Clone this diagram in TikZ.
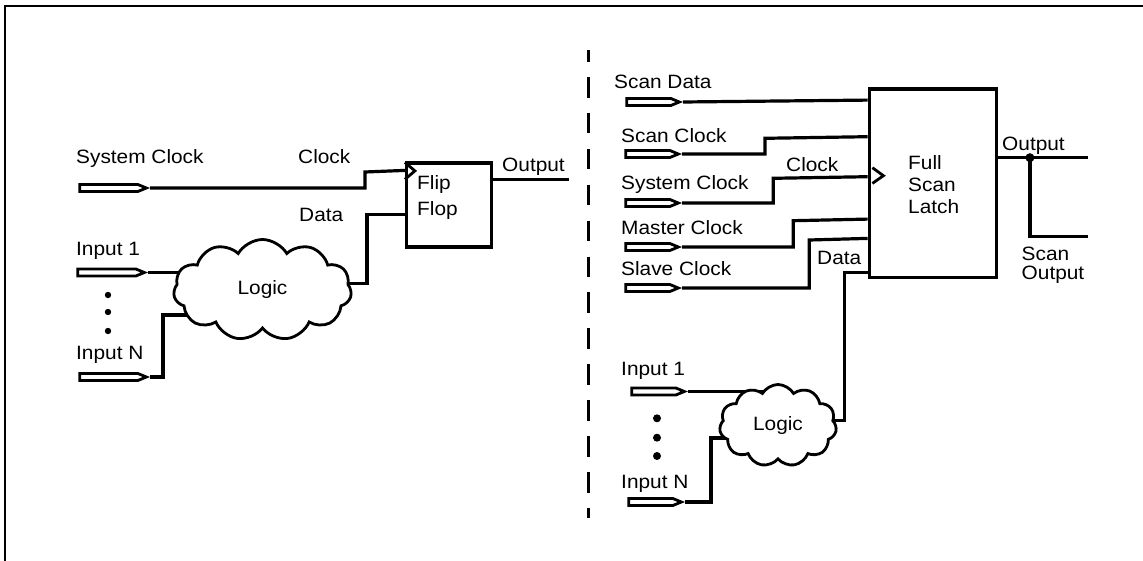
\documentclass[tikz,border=0pt]{standalone}
\usepackage{fontspec}
\setmainfont{Liberation Sans}[FakeStretch=1.08]
\usetikzlibrary{calc,shapes.symbols,backgrounds}
\newcommand{\sigfont}{\fontsize{19.3}{26}\selectfont}
\tikzset{
    wire/.style={
        line width=3.2pt
    },
    port/.style={
        draw,
        line width=2.8pt,
        shape=signal,
        signal to=east,
        signal from=nowhere,
        signal pointer angle=45,
        minimum width=52.5pt,
        minimum height=7pt,
        inner sep=0pt,
        anchor=east
    },
    portlong/.style={
        port,
        minimum width=66.5pt
    },
    sig/.style={
        anchor=base west,
        inner sep=0pt,
        font=\sigfont
    },
    blocktext/.style={
        anchor=north west,
        align=left,
        inner sep=0pt
    },
    block/.style={
        draw,
        line width=3.2pt,
        fill=white,
        inner sep=0pt
    },
    logic/.style={
        draw,
        cloud,
        cloud puffs=11,
        cloud puff arc=120,
        cloud ignores aspect,
        line width=2.8pt,
        fill=white,
        inner sep=0pt,
        font=\sigfont
    }
}

\begin{document}
\begin{tikzpicture}[x=1pt,y=-1pt]

    \useasboundingbox (0,0) rectangle (1143,561);
    \draw[line width=2.2pt] (5,561) -- (5,6) -- (1143,6);

    %% left: plain flip flop
    \node (ff) [block,minimum width=85pt,minimum height=84pt] at (449,205) {};
    \node[blocktext,font=\fontsize{19.3}{26}\selectfont] at (417,175.5) {Flip\\Flop};
    \draw[line width=2.8pt] ($(ff.north west)+(0,1)$) -- ($(ff.north west)+(10,9.5)$) -- ($(ff.north west)+(0,18)$);

    \node (sysclkL) [portlong] at (150,188) {};
    \node (in1L) [portlong] at (148,272.5) {};
    \node (inNL) [portlong] at (150,377) {};
    \node (logicL) [logic,minimum width=178pt,minimum height=101pt] at (262.5,290) {Logic};

    \node[sig] at (76,164) {System Clock};
    \node[sig] at (298,164) {Clock};
    \node[sig] at (299,222) {Data};
    \node[sig] at (502,172) {Output};
    \node[sig] at (76,255.5) {Input 1};
    \node[sig] at (76,359) {Input N};

    \fill (108,295) circle (3.2);
    \fill (108,312) circle (3.2);
    \fill (108,331) circle (3.2);

    \begin{scope}[on background layer]
        \draw[wire] (sysclkL.east) -| ++(215,-16) -- ($(ff.north west)+(0,9)$);
        \draw[wire] ($(ff.north west)+(0,53)$) -| ++(-38,69) -- ++(-100,0);
        \draw[wire] (in1L.east) -- ++(100,0);
        \draw[wire] (inNL.east) -| ++(13,-62) -- ++(100,0);
        \draw[wire] ($(ff.north east)+(0,18.5)$) -- ++(76,0);
    \end{scope}

    %% divider
    \draw[line width=3pt,dash pattern=on 20.5pt off 15.4pt,dash phase=8.8pt] (588,50) -- (588,518);

    %% right: full scan latch
    \node (latch) [block,minimum width=127pt,minimum height=188.5pt] at (932.8,183.25) {};
    \node[blocktext,font=\fontsize{19.3}{21.7}\selectfont] at (908,155.5) {Full\\Scan\\Latch};
    \draw[line width=2.8pt] ($(latch.north west)+(4.7,80.3)$) -- ($(latch.north west)+(15.7,88.3)$) -- ($(latch.north west)+(4.7,96)$);

    \node (scandata) [port] at (683,102) {};
    \node (scanclk) [port] at (682,154) {};
    \node (sysclkR) [port] at (682,203) {};
    \node (mclk) [port] at (682,247) {};
    \node (sclk) [port] at (682,288) {};
    \node (in1R) [port] at (688,391.5) {};
    \node (inNR) [port] at (685,502) {};
    \node (logicR) [logic,minimum width=117pt,minimum height=82pt] at (778,425.5) {Logic};

    \node[sig] at (614,89) {Scan Data};
    \node[sig] at (621,143) {Scan Clock};
    \node[sig] at (786,171.5) {Clock};
    \node[sig] at (621,190) {System Clock};
    \node[sig] at (621,235) {Master Clock};
    \node[sig] at (621,276) {Slave Clock};
    \node[sig] at (817,265) {Data};
    \node[sig] at (1002,150.7) {Output};
    \node[blocktext,font=\fontsize{19.3}{19.5}\selectfont] at (1021.5,246.8) {Scan\\Output};
    \node[sig] at (621,375) {Input 1};
    \node[sig] at (621,488) {Input N};

    \fill (657,418.3) circle (4);
    \fill (657,437.7) circle (4);
    \fill (657,456) circle (4);

    \coordinate (tap) at ($(latch.north east)+(32,70.3)$);
    \fill (tap) circle (4.5);

    \begin{scope}[on background layer]
        \draw[wire] (scandata.east) -- ($(latch.north west)+(0,12.7)$);
        \draw[wire] (scanclk.east) -| ++(83,-15.7) -- ($(latch.north west)+(0,49.3)$);
        \draw[wire] (sysclkR.east) -| ++(91.3,-24.7) -- ($(latch.north west)+(0,89.3)$);
        \draw[wire] (mclk.east) -| ++(111.3,-26.3) -- ($(latch.north west)+(0,131.7)$);
        \draw[wire] (sclk.east) -| ++(127.3,-48) -- ($(latch.north west)+(0,151)$);
        \draw[wire] ($(latch.north west)+(0,185)$) -| ++(-23.6,148) -- ++(-60,0);
        \draw[wire] (in1R.east) -- ++(80,0);
        \draw[wire] (inNR.east) -| ++(26,-64) -- ++(60,0);
        \draw[wire] ($(latch.north east)+(0,70.3)$) -- ++(89.7,0);
        \draw[wire] (tap) |- ++(57.7,79);
    \end{scope}

\end{tikzpicture}
\end{document}
